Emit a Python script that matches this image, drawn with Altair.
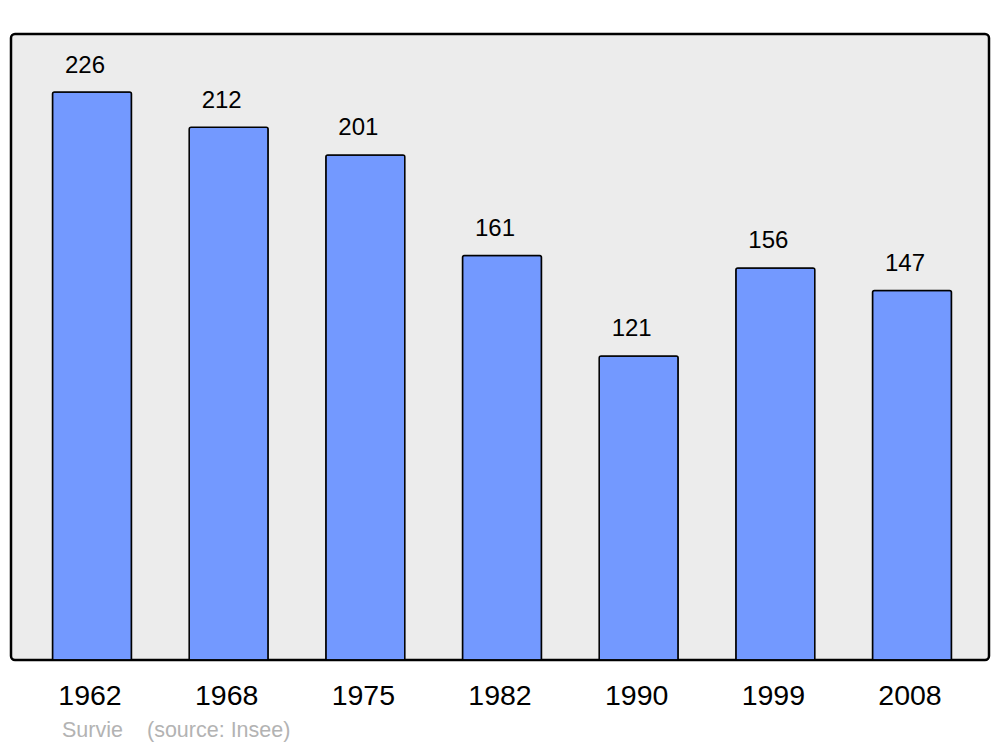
import altair as alt
import pandas as pd

years = ["1962", "1968", "1975", "1982", "1990", "1999", "2008"]
population = [226, 212, 201, 161, 121, 156, 147]
footer_left = "Survie"
footer_right = "(source: Insee)"

df = pd.DataFrame({"year": years, "pop": population})

FONT = "Liberation Sans"

x = alt.X("year:N", sort=years, title=None,
          scale=alt.Scale(paddingInner=0.422, paddingOuter=0.289),
          axis=alt.Axis(domain=False, ticks=False, tickSize=0, labelAngle=0,
                        labelFontSize=28.5, labelFont=FONT, labelColor="black",
                        labelBaseline="alphabetic", labelPadding=44, grid=False))
y = alt.Y("pop:Q", title=None, scale=alt.Scale(domain=[0, 249.1], nice=False, zero=True),
          axis=None)

base = alt.Chart(df)

bars = base.mark_bar(color="#7399ff", stroke="black", strokeWidth=1.5, xOffset=2,
                     cornerRadiusTopLeft=2, cornerRadiusTopRight=2).encode(x=x, y=y)

labels = base.mark_text(fontSize=24, font=FONT, color="black", baseline="alphabetic",
                        dy=-19.5, dx=-5).encode(x=x, y=y, text="pop:Q")

f1 = alt.Chart(pd.DataFrame({"t": [footer_left]})).mark_text(
    fontSize=21.5, font=FONT, color="#b3b3b3", align="left", baseline="alphabetic"
).encode(text="t:N", x=alt.value(51), y=alt.value(703))

f2 = alt.Chart(pd.DataFrame({"t": [footer_right]})).mark_text(
    fontSize=21.5, font=FONT, color="#b3b3b3", align="left", baseline="alphabetic"
).encode(text="t:N", x=alt.value(136), y=alt.value(703))

chart = alt.layer(bars, labels, f1, f2).properties(
    width=978, height=626,
    autosize=alt.AutoSizeParams(type="none"),
    padding={"left": 3, "top": 26, "right": 3, "bottom": 84},
    background="white",
).configure_view(fill="#ececec", stroke="black", strokeWidth=2.5, cornerRadius=4)

chart.save("out.html", embed_options={"renderer": "svg", "actions": False})
